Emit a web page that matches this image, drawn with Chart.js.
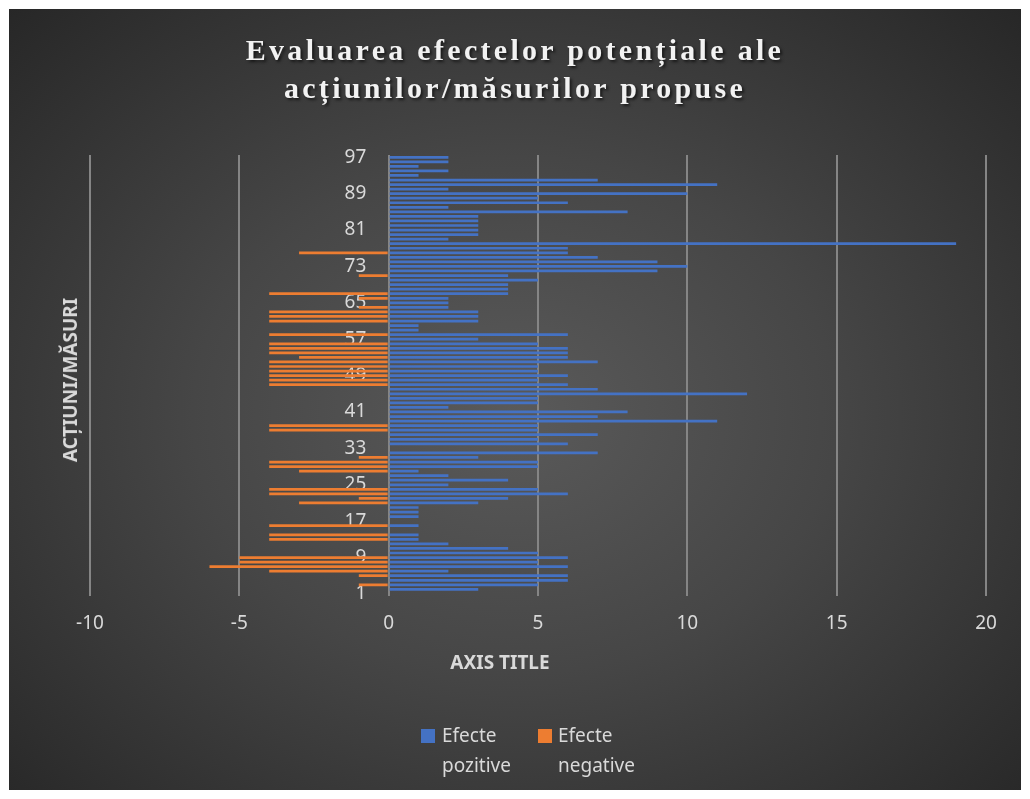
<!DOCTYPE html>
<html>
<head>
<meta charset="utf-8">
<script src="https://cdn.jsdelivr.net/npm/chart.js@4.4.0/dist/chart.umd.min.js"></script>
<style>
  html, body { margin: 0; padding: 0; background: #ffffff; }
  #wrap { position: relative; width: 1030px; height: 799px; overflow: hidden; }
  #bg {
    position: absolute; left: 9px; top: 9px; width: 1012px; height: 781px;
    background: radial-gradient(ellipse at 50% 52%, #5a5a5a 0%, #464646 45%, #272727 100%);
  }
  #chart { position: absolute; left: 0; top: 0; }
  .title {
    position: absolute; left: 0; top: 31px; width: 1030px; text-align: center;
    font-family: "Liberation Serif", serif; font-weight: bold; font-size: 30px;
    line-height: 38px; letter-spacing: 3.3px; color: #f2f2f2;
    text-shadow: 2px 2px 3px rgba(0, 0, 0, 0.6);
  }
  .axis-title {
    position: absolute; font-family: "Noto Sans", sans-serif; font-weight: bold;
    font-size: 19px; color: #d9d9d9; white-space: nowrap;
  }
  .legend-box { position: absolute; width: 14px; height: 14px; top: 729px; }
  .legend-text {
    position: absolute; top: 720px; font-family: "Noto Sans", sans-serif;
    font-size: 19px; line-height: 30px; color: #d9d9d9;
  }
</style>
</head>
<body>
<div id="wrap">
  <div id="bg"></div>
  <canvas id="chart" width="1030" height="799"></canvas>
  <div class="title">Evaluarea efectelor potențiale ale<br>acțiunilor/măsurilor propuse</div>
  <div class="axis-title" style="left:70px; top:380px; transform: translate(-50%, -50%) rotate(-90deg);">ACȚIUNI/MĂSURI</div>
  <div class="axis-title" style="left:500px; top:662px; transform: translate(-50%, -50%);">AXIS TITLE</div>
  <div class="legend-box" style="left:421px; background:#4472c4;"></div>
  <div class="legend-text" style="left:442px;">Efecte<br>pozitive</div>
  <div class="legend-box" style="left:538px; background:#ed7d31;"></div>
  <div class="legend-text" style="left:558px;">Efecte<br>negative</div>
</div>
<script>
// actions/measures 1..97
var categories = [];
for (var i = 1; i <= 97; i++) {
    categories.push(String(i));
}

var efectePozitive = [
    0, 3, 5, 6, 6, 2, 6, 5, 6, 5,
    4, 2, 1, 1, 0, 1, 0, 1, 1, 1,
    3, 4, 6, 5, 2, 4, 2, 1, 5, 5,
    3, 7, 0, 6, 5, 7, 5, 5, 11, 7,
    8, 2, 5, 5, 12, 7, 6, 5, 6, 5,
    5, 7, 6, 6, 6, 5, 3, 6, 1, 1,
    3, 3, 3, 2, 2, 2, 4, 4, 4, 5,
    4, 9, 10, 9, 7, 6, 6, 19, 2, 3,
    3, 3, 3, 3, 8, 2, 6, 5, 10, 2,
    11, 7, 1, 2, 1, 2, 2
];

var efecteNegative = [
    0, 0, -1, 0, -1, -4, -6, -5, -5, 0,
    0, 0, -4, -4, 0, -4, 0, 0, 0, 0,
    -3, -1, -4, -4, 0, 0, 0, -3, -4, -4,
    -1, 0, 0, 0, 0, 0, -4, -4, 0, 0,
    0, 0, 0, 0, 0, 0, -4, -4, -4, -4,
    -4, -4, -3, -4, -4, -4, 0, -4, 0, 0,
    -4, -4, -4, -1, 0, -1, -4, 0, 0, 0,
    -1, 0, 0, 0, 0, -3, 0, 0, 0, 0,
    0, 0, 0, 0, 0, 0, 0, 0, 0, 0,
    0, 0, 0, 0, 0, 0, 0
];

var axisMin = -10;
var axisMax = 20;
var axisStep = 5;

var labelColor = '#d9d9d9';

var config = {
    type: 'bar',
    data: {
        labels: categories,
        datasets: [{
            label: 'Efecte pozitive',
            data: efectePozitive,
            backgroundColor: '#4472c4',
            barPercentage: 0.6,
            categoryPercentage: 1.0
        }, {
            label: 'Efecte negative',
            data: efecteNegative,
            backgroundColor: '#ed7d31',
            barPercentage: 0.6,
            categoryPercentage: 1.0
        }]
    },
    options: {
        indexAxis: 'y',
        responsive: false,
        animation: false,
        layout: {
            padding: { left: 90, right: 44, top: 155, bottom: 148 }
        },
        plugins: {
            legend: { display: false },
            title: { display: false },
            tooltip: { enabled: false }
        },
        scales: {
            x: {
                type: 'linear',
                stacked: true,
                min: axisMin,
                max: axisMax,
                grid: { color: '#858585', lineWidth: 2, drawTicks: false },
                border: { display: false },
                ticks: {
                    stepSize: axisStep,
                    padding: 16,
                    color: labelColor,
                    font: { family: 'Noto Sans', size: 19 }
                }
            },
            y: {
                type: 'category',
                stacked: true,
                reverse: true,
                position: { x: -0.75 },
                grid: { display: false, drawTicks: false },
                border: { display: false },
                ticks: {
                    autoSkip: false,
                    color: labelColor,
                    font: { family: 'Noto Sans', size: 19 },
                    callback: function(value, index) {
                        // Only every 8th action gets a label
                        return index % 8 === 0 ? this.getLabelForValue(value) : '';
                    }
                }
            }
        }
    }
};

var ctx = document.getElementById('chart').getContext('2d');
var chart = new Chart(ctx, config);
</script>
</body>
</html>
